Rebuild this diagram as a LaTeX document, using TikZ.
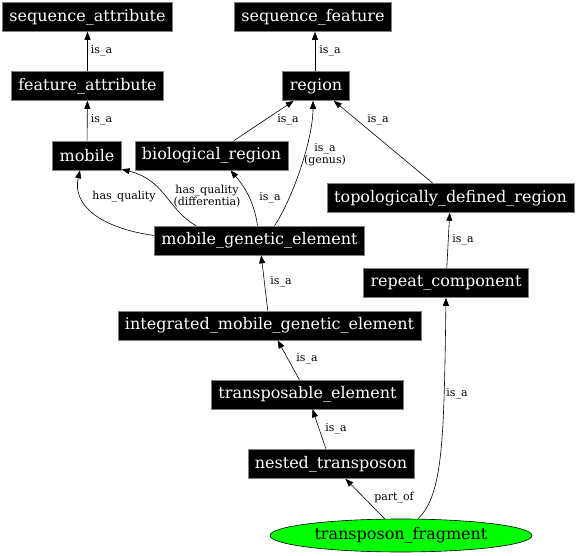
\documentclass[tikz,border=0pt]{standalone}
\usepackage{fontspec}
\setmainfont{DejaVu Serif}
\usetikzlibrary{arrows.meta,shapes.geometric,calc}
\tikzset{
  tbox/.style={fill=black,draw=gray,text=white,font=\fontsize{16}{18}\selectfont,
    minimum height=29pt,inner xsep=7pt,inner ysep=0pt,line width=0.6pt},
  lbl/.style={font=\fontsize{11}{12}\selectfont,align=center,inner sep=0pt},
  edge/.style={draw=black,line width=0.6pt,-{Triangle[length=8pt,width=6pt]}},
}
\begin{document}
\begin{tikzpicture}[x=1pt,y=-1pt]
\useasboundingbox (0,0) rectangle (576,556);
\node[tbox] (sa) at (87.5,17) {sequence\_attribute};
\node[tbox] (sf) at (313,17) {sequence\_feature};
\node[tbox] (fa) at (87.5,86) {feature\_attribute};
\node[tbox] (reg) at (316,86) {region};
\node[tbox] (mob) at (87,155.5) {mobile};
\node[tbox] (bior) at (211.5,155.5) {biological\_region};
\node[tbox] (topo) at (450.5,198) {topologically\_defined\_region};
\node[tbox] (mge) at (259.5,240.5) {mobile\_genetic\_element};
\node[tbox] (rep) at (446,283) {repeat\_component};
\node[tbox] (imge) at (269.5,325.5) {integrated\_mobile\_genetic\_element};
\node[tbox] (te) at (307.5,394.5) {transposable\_element};
\node[tbox] (nt) at (331,464) {nested\_transposon};
\node[ellipse,fill=green,draw=black,line width=0.6pt,minimum width=262pt,minimum height=33pt,
  inner sep=0pt,font=\fontsize{16}{18}\selectfont] (tf) at (401,535.5) {transposon\_fragment};

\draw[edge] (fa) -- (sa);
\node[lbl] (l1) at (101.5,51) {is\_a};
\draw[edge] ($(reg.north)+(-1,0)$) -- ($(reg.north |- sf.south)+(-1,0)$);
\node[lbl] (l2) at (330,51) {is\_a};
\draw[edge] (mob) -- (fa);
\node[lbl] (l3) at (101.5,120) {is\_a};
\draw[edge] (bior) -- (reg);
\node[lbl] (l4) at (288,120) {is\_a};
\draw[edge] (topo) -- (reg);
\node[lbl] (l5) at (378,120) {is\_a};
\draw[edge] ($(mge.north)+(15,0)$) .. controls (292,200) and (313,140) .. ($(reg.south)+(-3,0)$);
\node[lbl] (l6) at (325,155) {is\_a\\(genus)};
\draw[edge] ($(mge.north)+(-2,0)$) .. controls (254,200) and (243,185) .. ($(bior.south)+(19,0)$);
\node[lbl] (l7) at (270,198) {is\_a};
\draw[edge] ($(mge.west)+(0,-5)$) .. controls (100,228) and (72,205) .. ($(mob.south)+(-7,0)$);
\node[lbl] (l8) at (124,197) {has\_quality};
\draw[edge] ($(mge.north west)+(42,0)$) .. controls (168,210) and (165,180) .. ($(mob.south east)+(0,-1)$);
\node[lbl] (l9) at (207,196) {has\_quality\\(differentia)};
\draw[edge] (imge) -- (mge);
\node[lbl] (l10) at (281,282) {is\_a};
\draw[edge] (rep) -- (topo);
\node[lbl] (l11) at (463,240) {is\_a};
\draw[edge] (te) -- (imge);
\node[lbl] (l12) at (307,359) {is\_a};
\draw[edge] (nt) -- (te);
\node[lbl] (l13) at (336,429) {is\_a};
\draw[edge] (tf) -- (nt);
\node[lbl] (l14) at (394,498) {part\_of};
\draw[edge] ($(tf.north)+(17,0)$) .. controls (443,495) and (444,440) .. (rep.south);
\node[lbl] (l15) at (457,394) {is\_a};
\end{tikzpicture}
\end{document}
